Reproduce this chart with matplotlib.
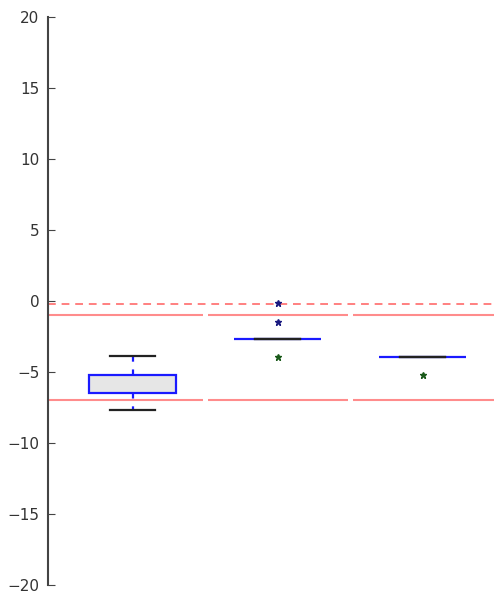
import matplotlib
matplotlib.use("Agg")
import matplotlib.pyplot as plt

positions = [1, 2, 3]
q1 = [-6.45, -2.7, -3.95]
med = [-6.45, -2.7, -3.95]
q3 = [-5.18, -2.7, -3.95]
whislo = [-7.68, -2.7, -3.95]
whishi = [-3.9, -2.7, -3.95]
high_fliers = [[], [-0.15, -1.45], []]
low_fliers = [[], [-3.95], [-5.2]]

ref_dashed = -0.2
ref_upper = -1.0
ref_lower = -7.0
yticks = [-20, -15, -10, -5, 0, 5, 10, 15, 20]

fig = plt.figure(figsize=(4.94, 5.91), dpi=100)
ax = fig.add_axes([0.097, 0.0102, 0.903, 0.9608])

stats = []
for i in range(3):
    stats.append(dict(q1=q1[i], med=med[i], q3=q3[i], whislo=whislo[i],
                      whishi=whishi[i], fliers=[]))

ax.bxp(stats, positions=positions, widths=0.6, patch_artist=True, showfliers=False,
       boxprops=dict(facecolor='#e6e6e6', edgecolor='#1a1aff', linewidth=1.6),
       medianprops=dict(color='#1a1aff', linewidth=1.4, zorder=3),
       whiskerprops=dict(color='#1a1aff', linestyle=(0, (2.5, 3.5)), linewidth=1.6),
       capprops=dict(color='#222222', linewidth=1.6, zorder=4),
       capwidths=0.31)

for i, p in enumerate(positions):
    if high_fliers[i]:
        ax.plot([p] * len(high_fliers[i]), high_fliers[i], '*', color='#1a1a80',
                markersize=4.5, linestyle='none', zorder=5)
    if low_fliers[i]:
        ax.plot([p] * len(low_fliers[i]), low_fliers[i], '*', color='#1a5a1a',
                markersize=4.5, linestyle='none', zorder=5)

ax.axhline(ref_dashed, color='#ff8080', linestyle='--', linewidth=1.4, dashes=(4, 3))
segs = [(0.3, 1.485), (1.515, 2.485), (2.515, 3.6)]
for a, b in segs:
    ax.hlines([ref_upper, ref_lower], a, b, color='#ff8c8c', linewidth=1.5)

ax.set_xlim(0.414, 3.49)
ax.set_ylim(-20, 20)
ax.set_yticks(yticks)
ax.set_yticklabels([str(t) if t >= 0 else '\u2212' + str(-t) for t in yticks])
ax.set_xticks([])
for s in ['top', 'right', 'bottom']:
    ax.spines[s].set_visible(False)
ax.spines['left'].set_color('#444444')
ax.spines['left'].set_linewidth(1.5)
ax.tick_params(axis='y', direction='in', length=5, color='#444444', labelsize=11,
               labelcolor='#333333', pad=6)

fig.savefig('out.png', dpi=100)
